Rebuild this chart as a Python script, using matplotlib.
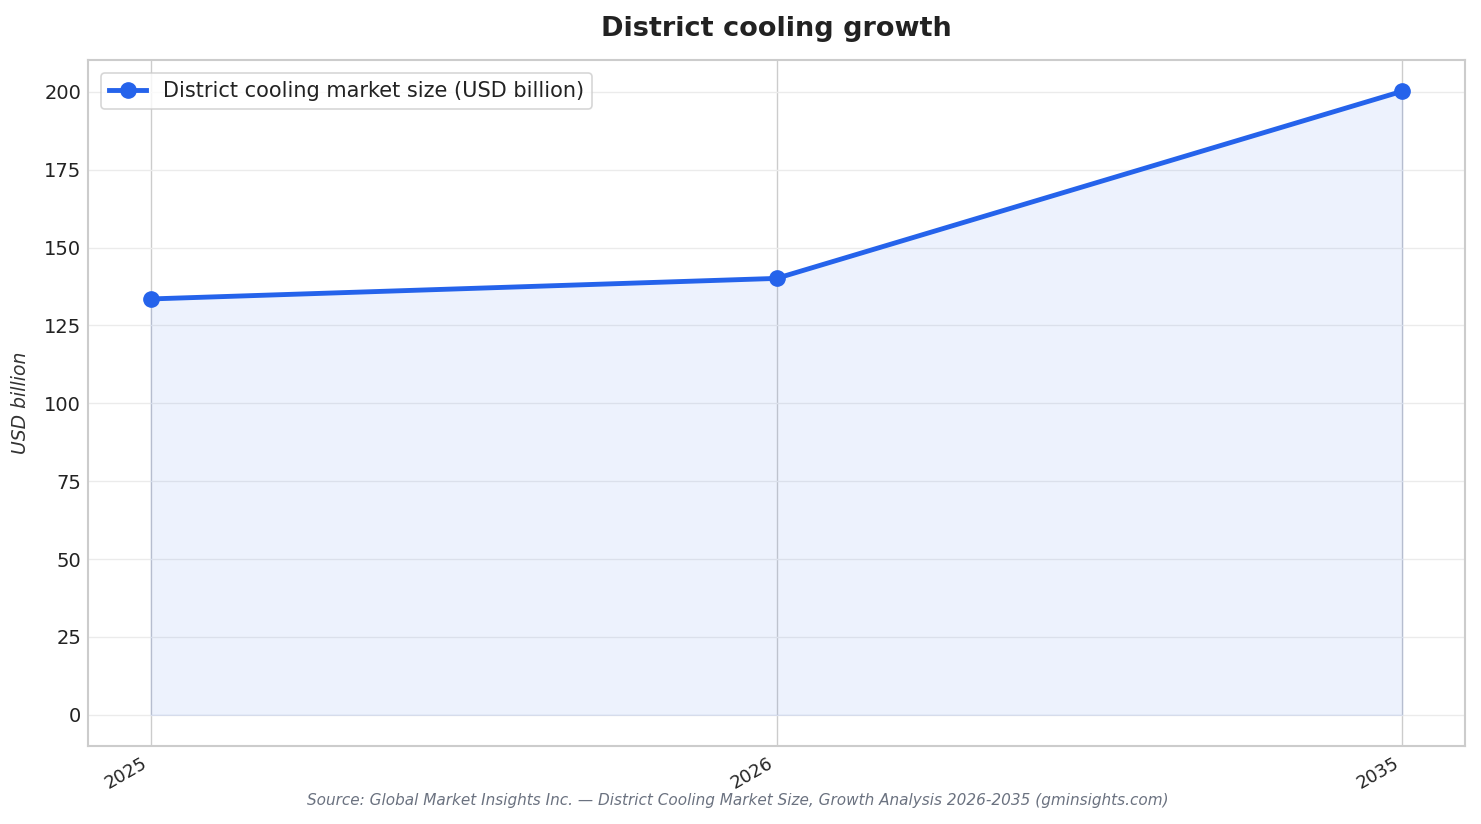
import matplotlib
matplotlib.use("Agg")
import matplotlib.pyplot as plt

years = ["2025", "2026", "2035"]
market_size = [133.5, 140.1, 200.2]
series_label = "District cooling market size (USD billion)"

fig = plt.figure(figsize=(14.81, 8.24), dpi=100)
ax = fig.add_axes([88/1481, 1-746/824, (1465-88)/1481, (746-60)/824])

x = list(range(len(years)))
ax.fill_between(x, market_size, 0, color="#2563eb", alpha=0.08, linewidth=1.0, zorder=2)
ax.plot(x, market_size, color="#2563eb", linewidth=3.5, marker="o", markersize=11,
        label=series_label, zorder=3)

ax.set_xticks(x)
ax.set_xticklabels(years, rotation=30, ha="right", fontsize=13, color="#222222")
ax.tick_params(axis="y", labelsize=14, colors="#222222", length=0, pad=5)
ax.tick_params(axis="x", length=0, pad=6)
ax.set_yticks(range(0, 201, 25))
ax.margins(x=0.05, y=0.05)

ax.grid(axis="y", color="#ebebeb", linewidth=1.0, zorder=0)
ax.grid(axis="x", color="#cccccc", linewidth=1.0, zorder=0)
ax.set_axisbelow(True)
for s in ax.spines.values():
    s.set_color("#cccccc")
    s.set_linewidth(1.5)

ax.set_ylabel("USD billion", fontsize=13.5, style="italic", color="#333333", labelpad=10)
ax.set_title("District cooling growth", fontsize=19.5, fontweight="bold", color="#222222", pad=17)

leg = ax.legend(loc="upper left", fontsize=15, frameon=True, fancybox=True,
                edgecolor="#cccccc", handlelength=1.8, borderaxespad=0.6)
leg.get_frame().set_linewidth(1.2)
for t in leg.get_texts():
    t.set_color("#222222")

fig.text(738/1481, 1-800/824, "Source: Global Market Insights Inc. — District Cooling Market Size, Growth Analysis 2026-2035 (gminsights.com)",
         ha="center", va="center", fontsize=11, style="italic", color="#6b7280")

fig.savefig("out.png", dpi=100)
